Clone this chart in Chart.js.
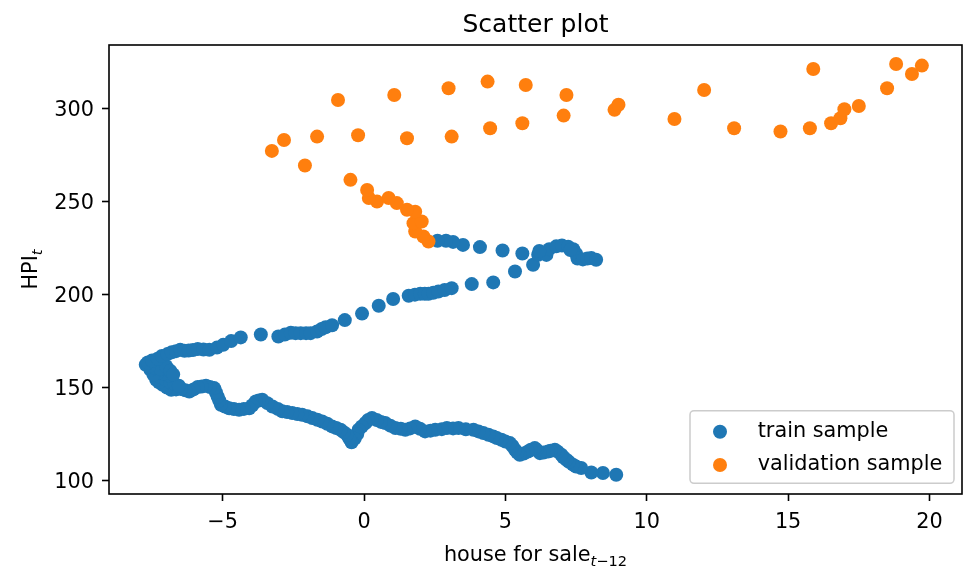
<!DOCTYPE html>
<html>
<head>
<meta charset="utf-8">
<script src="https://cdn.jsdelivr.net/npm/chart.js@4/dist/chart.umd.min.js"></script>
<style>
  html, body { margin: 0; padding: 0; background: #ffffff; }
  #wrap { width: 969px; height: 573px; }
</style>
</head>
<body>
<div id="wrap"><canvas id="chart" width="969" height="573"></canvas></div>
<script>
// Chart text
const chartTitle = 'Scatter plot';
const xLabelMain = 'house for sale';
const xLabelSubItalic = 't';
const xLabelSubRest = '\u221212';
const yLabelMain = 'HPI';
const yLabelSub = 't';
const seriesNames = ['train sample', 'validation sample'];

// Axis ticks
const xTicks = [-5, 0, 5, 10, 15, 20];
const yTicks = [100, 150, 200, 250, 300];

// Train sample: house for sale (t-12) vs HPI (t)
const trainX = [
  8.92, 8.45, 8.04, 7.68, 7.50, 7.39, 7.25, 7.16, 7.05, 6.98, 6.85, 6.75, 6.60, 6.51, 6.35, 6.22,
  6.10, 6.04, 5.90, 5.80, 5.65, 5.51, 5.42, 5.34, 5.25, 5.16, 5.00, 4.86, 4.70, 4.57, 4.40, 4.22,
  4.05, 3.87, 3.60, 3.34, 3.15, 2.93, 2.75, 2.52, 2.35, 2.16, 1.98, 1.81, 1.63, 1.46, 1.30, 1.11,
  0.93, 0.75, 0.60, 0.45, 0.28, 0.15, 0.05, -0.08, -0.19, -0.24, -0.33, -0.44, -0.52, -0.60, -0.72, -0.83,
  -0.98, -1.13, -1.30, -1.48, -1.65, -1.83, -2.00, -2.19, -2.36, -2.54, -2.72, -2.89, -3.05, -3.24, -3.42, -3.60,
  -3.72, -3.83, -3.95, -4.06, -4.25, -4.42, -4.60, -4.77, -4.92, -5.06, -5.12, -5.18, -5.24, -5.30, -5.45, -5.59,
  -5.74, -5.88, -6.03, -6.18, -6.32, -6.47, -6.65, -6.82, -6.97, -7.12, -7.25, -7.35, -7.20, -7.00, -6.85, -6.70,
  -6.55, -6.90, -7.10, -7.30, -7.45, -7.55, -7.40, -7.20, -7.00, -6.85, -6.75, -7.60, -7.72, -7.65, -7.50, -7.30,
  -7.15, -6.95, -6.80, -6.65, -6.50, -6.35, -6.20, -6.05, -5.88, -5.68, -5.47, -5.20, -4.98, -4.70, -4.36, -3.65,
  -3.03, -2.80, -2.59, -2.42, -2.24, -2.05, -1.89, -1.66, -1.50, -1.36, -1.13, -0.68, -0.07, 0.52, 1.03, 1.58,
  1.80, 1.99, 2.15, 2.28, 2.45, 2.63, 2.85, 3.10, 3.81, 4.57, 5.34, 5.98, 6.16, 6.45, 6.55, 6.80,
  7.00, 7.22, 7.40, 7.50, 7.55, 7.74, 7.90, 8.04, 8.21, 7.30, 6.20, 5.60, 4.90, 4.10, 3.50, 3.15,
  2.90, 2.60
];
const trainY = [
  103.1, 104.0, 104.3, 106.7, 107.5, 108.5, 110.0, 111.1, 112.5, 113.8, 115.5, 116.5, 116.0, 115.6, 115.0, 114.7,
  116.5, 117.4, 116.5, 115.6, 114.5, 113.8, 115.0, 116.5, 118.5, 120.1, 121.0, 121.9, 122.8, 123.7, 124.6, 125.5,
  126.4, 127.3, 127.5, 128.2, 128.0, 128.2, 127.6, 127.3, 126.8, 126.4, 127.8, 129.1, 128.0, 127.3, 127.8, 128.2,
  129.5, 130.9, 131.5, 132.5, 133.6, 132.5, 130.9, 129.0, 127.3, 125.0, 122.5, 120.5, 122.5, 124.6, 126.0, 127.3,
  128.2, 129.1, 130.5, 131.7, 132.7, 133.6, 134.5, 135.4, 135.8, 136.3, 136.8, 137.2, 138.5, 139.8, 141.6, 143.4,
  143.0, 142.5, 140.5, 138.9, 138.5, 138.0, 138.4, 138.9, 139.8, 140.7, 143.0, 145.2, 147.5, 149.7, 150.3, 151.0,
  150.6, 150.3, 149.0, 147.9, 148.5, 149.2, 149.0, 148.8, 150.0, 151.5, 152.8, 154.2, 155.5, 154.0, 153.0, 152.0,
  151.0, 156.5, 157.5, 158.0, 157.0, 159.5, 160.5, 160.0, 161.5, 159.0, 157.0, 161.5, 162.3, 163.5, 164.5, 165.5,
  167.0, 168.0, 169.0, 169.6, 170.3, 169.8, 169.9, 170.2, 170.7, 170.5, 170.3, 171.5, 173.0, 175.0, 177.0, 178.6,
  177.5, 178.5, 179.5, 179.3, 179.3, 179.3, 179.3, 180.2, 181.5, 182.5, 183.5, 186.3, 189.8, 194.0, 197.7, 199.4,
  200.0, 200.5, 200.5, 200.5, 201.0, 201.7, 202.5, 203.5, 205.7, 206.6, 212.5, 216.1, 221.5, 221.4, 224.5, 226.0,
  226.5, 225.8, 224.5, 222.0, 219.5, 219.0, 219.5, 219.7, 218.8, 224.0, 223.5, 222.2, 223.8, 225.6, 226.8, 228.4,
  229.0, 229.0
];

// Validation sample
const validX = [
  2.28, 2.10, 1.81, 1.75, 2.04, 1.81, 1.52, 1.16, 0.87, 0.46, 0.17, 0.11, -0.48, -2.09, -3.26, -2.83,
  -1.66, -0.92, -0.21, 1.07, 1.52, 2.99, 3.10, 4.37, 4.46, 5.72, 5.60, 7.16, 7.06, 8.86, 9.00, 10.98,
  12.03, 13.09, 14.73, 15.77, 15.89, 16.52, 16.85, 16.99, 17.50, 18.50, 18.82, 19.38, 19.73
];
const validY = [
  228.6, 231.3, 234.0, 238.5, 239.4, 244.7, 245.7, 249.3, 252.0, 250.1, 252.0, 256.4, 261.8, 269.5, 277.4, 283.3,
  285.1, 304.8, 285.8, 307.5, 284.2, 311.1, 285.1, 314.7, 289.6, 312.9, 292.3, 307.5, 296.4, 299.5, 302.2, 294.6,
  310.2, 289.6, 287.8, 289.6, 321.5, 292.3, 295.0, 299.8, 301.6, 311.1, 324.2, 318.8, 323.3
];

const blue = '#1f77b4';
const orange = '#ff7f0e';
const FONT = '"DejaVu Sans", "Liberation Sans", sans-serif';
const tickFontPx = 20.8;

const zip = (xs, ys) => xs.map((x, i) => ({ x: x, y: ys[i] }));

// Draws a label made of pieces (normal text + subscript) centred on a point
function drawPieces(ctx, pieces, cx, baseline) {
  let total = 0;
  pieces.forEach(p => { ctx.font = p.font; p.w = ctx.measureText(p.text).width; total += p.w; });
  let x = cx - total / 2;
  ctx.textAlign = 'left';
  ctx.textBaseline = 'alphabetic';
  pieces.forEach(p => { ctx.font = p.font; ctx.fillText(p.text, x, baseline + (p.dy || 0)); x += p.w; });
}

const decorations = {
  id: 'decorations',
  afterDatasetsDraw(chart) {
    const { ctx, chartArea: a } = chart;
    ctx.save();
    ctx.strokeStyle = '#000';
    ctx.lineWidth = 1.6;
    ctx.strokeRect(a.left, a.top, a.right - a.left, a.bottom - a.top);
    ctx.restore();
  },
  afterDraw(chart) {
    const { ctx, chartArea: a } = chart;
    const cx = (a.left + a.right) / 2;
    const cy = (a.top + a.bottom) / 2;
    ctx.save();
    ctx.fillStyle = '#000';

    // title
    ctx.font = '25px ' + FONT;
    ctx.textAlign = 'center';
    ctx.textBaseline = 'alphabetic';
    ctx.fillText(chartTitle, cx, 32);

    // x axis label with subscript
    drawPieces(ctx, [
      { text: xLabelMain, font: tickFontPx + 'px ' + FONT },
      { text: xLabelSubItalic, font: 'italic 14.6px ' + FONT, dy: 4.5 },
      { text: xLabelSubRest, font: '14.6px ' + FONT, dy: 4.5 }
    ], cx, 561);

    // y axis label, rotated
    ctx.save();
    ctx.translate(37, cy);
    ctx.rotate(-Math.PI / 2);
    drawPieces(ctx, [
      { text: yLabelMain, font: tickFontPx + 'px ' + FONT },
      { text: yLabelSub, font: 'italic 14.6px ' + FONT, dy: 4.5 }
    ], 0, 0);
    ctx.restore();

    // legend box, lower right
    const bx = 690, by = 410.7, bw = 264, bh = 72.6, r = 4;
    ctx.beginPath();
    ctx.moveTo(bx + r, by);
    ctx.arcTo(bx + bw, by, bx + bw, by + bh, r);
    ctx.arcTo(bx + bw, by + bh, bx, by + bh, r);
    ctx.arcTo(bx, by + bh, bx, by, r);
    ctx.arcTo(bx, by, bx + bw, by, r);
    ctx.closePath();
    ctx.fillStyle = 'rgba(255,255,255,0.8)';
    ctx.fill();
    ctx.strokeStyle = '#cccccc';
    ctx.lineWidth = 1.5;
    ctx.stroke();

    const rows = [
      { label: seriesNames[0], color: blue, y: 431.7 },
      { label: seriesNames[1], color: orange, y: 465.0 }
    ];
    rows.forEach(row => {
      ctx.beginPath();
      ctx.arc(720, row.y, 7, 0, Math.PI * 2);
      ctx.fillStyle = row.color;
      ctx.fill();
      ctx.fillStyle = '#000';
      ctx.font = tickFontPx + 'px ' + FONT;
      ctx.textAlign = 'left';
      ctx.textBaseline = 'alphabetic';
      ctx.fillText(row.label, 757.7, row.y + 5.3);
    });
    ctx.restore();
  }
};

new Chart(document.getElementById('chart'), {
  type: 'scatter',
  data: {
    datasets: [
      {
        label: seriesNames[0],
        data: zip(trainX, trainY),
        backgroundColor: blue,
        borderColor: blue,
        borderWidth: 0,
        pointRadius: 7,
        pointHoverRadius: 7,
        order: 1
      },
      {
        label: seriesNames[1],
        data: zip(validX, validY),
        backgroundColor: orange,
        borderColor: orange,
        borderWidth: 0,
        pointRadius: 7,
        pointHoverRadius: 7,
        order: 0
      }
    ]
  },
  options: {
    responsive: false,
    animation: false,
    events: [],
    layout: { padding: { top: 45, right: 4, left: 0, bottom: 0 } },
    plugins: {
      legend: { display: false },
      title: { display: false },
      tooltip: { enabled: false }
    },
    scales: {
      x: {
        type: 'linear',
        min: -9.02,
        max: 21.15,
        afterBuildTicks(scale) { scale.ticks = xTicks.map(v => ({ value: v })); },
        afterFit(scale) { scale.height = 79; },
        border: { display: false },
        grid: { drawOnChartArea: false, drawTicks: true, tickLength: 7, tickWidth: 1.6, tickColor: '#000' },
        ticks: {
          color: '#000',
          padding: 9,
          maxRotation: 0,
          font: { family: FONT, size: tickFontPx },
          callback: v => String(v).replace('-', '\u2212')
        }
      },
      y: {
        type: 'linear',
        min: 92.7,
        max: 334.4,
        afterBuildTicks(scale) { scale.ticks = yTicks.map(v => ({ value: v })); },
        afterFit(scale) { scale.width = 109; },
        border: { display: false },
        grid: { drawOnChartArea: false, drawTicks: true, tickLength: 7, tickWidth: 1.6, tickColor: '#000' },
        ticks: {
          color: '#000',
          padding: 8,
          labelOffset: 2,
          font: { family: FONT, size: tickFontPx },
          callback: v => String(v)
        }
      }
    }
  },
  plugins: [decorations]
});
</script>
</body>
</html>
